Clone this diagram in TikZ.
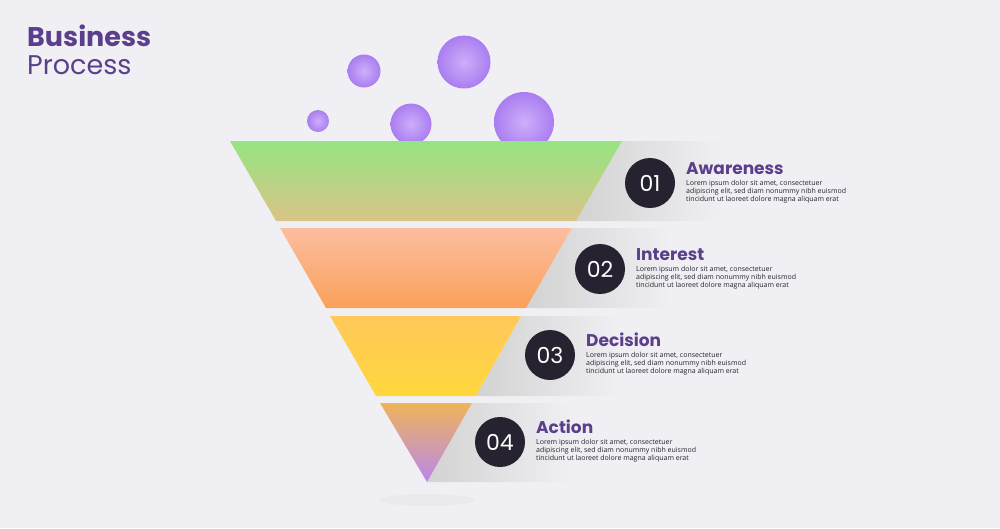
\documentclass[tikz,border=0pt]{standalone}
\usepackage{fontspec}
\setmainfont{Poppins}
\newfontfamily\bodyf{Open Sans}
\usetikzlibrary{shadings}
\definecolor{ttl}{HTML}{5B3F8C}
\definecolor{dark}{HTML}{26222F}
\definecolor{bg}{HTML}{F0F0F4}
\begin{document}
\begin{tikzpicture}[x=1pt,y=-1pt,
  bub/.style={circle,inner sep=0pt,shading=radial,inner color={rgb,255:red,205;green,175;blue,250},outer color={rgb,255:red,170;green,125;blue,240},draw=none},
  num/.style={circle,fill=dark,minimum size=50pt,inner sep=0pt,text=white,font=\fontsize{22}{22}\selectfont},
  hd/.style={anchor=base west,text=ttl,font=\fontsize{17}{17}\selectfont\bfseries,inner sep=0pt},
  bd/.style={anchor=north west,align=left,text=dark,font=\bodyf\fontsize{7}{8}\selectfont,inner sep=0pt}]
\fill[bg] (0,0) rectangle (1000,528);
\useasboundingbox (0,0) rectangle (1000,528);
\fill[gray!20,opacity=0.5] (427,500) ellipse (48 and 6);
% bubbles
\node[bub,minimum size=22pt] (b1) at (318,121) {};
\node[bub,minimum size=33pt] (b2) at (364,71) {};
\node[bub,minimum size=41pt] (b3) at (411,124) {};
\node[bub,minimum size=53pt] (b4) at (464,62) {};
\node[bub,minimum size=60pt] (b5) at (524,122) {};
% gray bands
\foreach \yt/\yb/\xt/\xb in {141/221/622/576,228/308/572/526,316/396/521/476,403/482/472/427}{
  \shade[left color=gray!35,right color=bg] (\xt,\yt) -- (\xt+100,\yt) -- (\xt+100,\yb) -- (\xb,\yb) -- cycle;
}
\shade[top color={rgb,255:red,150;green,228;blue,130},bottom color={rgb,255:red,218;green,196;blue,135}] (230,141) -- (622,141) -- (576,221) -- (276,221) -- cycle;
\shade[top color={rgb,255:red,252;green,190;blue,160},bottom color={rgb,255:red,250;green,160;blue,90}] (280,228) -- (572,228) -- (526,308) -- (326,308) -- cycle;
\shade[top color={rgb,255:red,255;green,200;blue,90},bottom color={rgb,255:red,255;green,215;blue,60}] (330,316) -- (521,316) -- (476,396) -- (376,396) -- cycle;
\shade[top color={rgb,255:red,240;green,180;blue,90},bottom color={rgb,255:red,185;green,135;blue,235}] (380,403) -- (472,403) -- (427,482) -- cycle;
% title
\node[anchor=base west,text=ttl,font=\fontsize{27}{27}\selectfont\bfseries,inner sep=0pt] (t1) at (27,46) {Business};
\node[anchor=base west,text=ttl,font=\fontsize{27}{27}\selectfont,inner sep=0pt] (t2) at (27,74) {Process};
% steps
\foreach \n/\cx/\cy/\h in {01/650/183/Awareness,02/600/269/Interest,03/550/355/Decision,04/500/442/Action}{
  \node[num] (c\n) at (\cx,\cy) {\n};
  \node[hd] (h\n) at (\cx+36,\cy-9) {\h};
  \node[bd] (d\n) at (\cx+36,\cy-3) {Lorem ipsum dolor sit amet, consectetuer\\adipiscing elit, sed diam nonummy nibh euismod\\tincidunt ut laoreet dolore magna aliquam erat};
}
\end{tikzpicture}
\end{document}
